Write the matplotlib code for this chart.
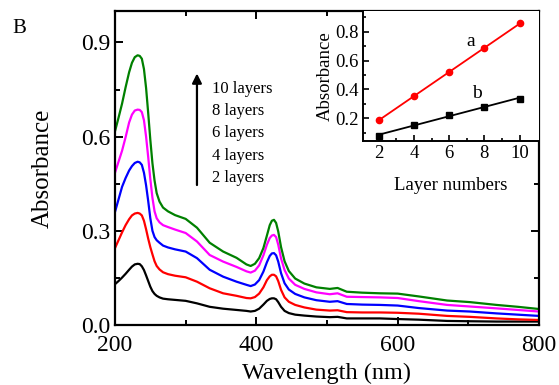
import matplotlib.pyplot as plt
import numpy as np

plt.rcParams['font.family'] = ['Liberation Serif', 'DejaVu Serif']

# UV-vis spectra, sampled at these wavelengths (nm)
wavelength = [200, 205, 210, 215, 220, 224, 228, 232, 235, 238, 241, 244, 247, 250, 253,
              256, 259, 263, 268, 275, 285, 300, 316, 334, 353, 372, 386, 392, 398, 404,
              410, 415, 419, 422, 425, 428, 431, 435, 440, 446, 455, 468, 485, 504, 515,
              528, 550, 575, 600, 630, 670, 702, 740, 770, 800]

abs_2 = [0.130, 0.140, 0.151, 0.163, 0.176, 0.186, 0.193, 0.195, 0.194, 0.187, 0.175, 0.158,
         0.140, 0.122, 0.108, 0.099, 0.093, 0.088, 0.084, 0.082, 0.080, 0.077, 0.069, 0.058,
         0.052, 0.048, 0.045, 0.043, 0.045, 0.052, 0.065, 0.077, 0.083, 0.085, 0.085, 0.082,
         0.073, 0.058, 0.045, 0.038, 0.033, 0.030, 0.027, 0.025, 0.026, 0.021, 0.021, 0.021,
         0.019, 0.017, 0.013, 0.012, 0.011, 0.011, 0.011]
abs_4 = [0.245, 0.270, 0.295, 0.318, 0.337, 0.349, 0.355, 0.357, 0.355, 0.349, 0.332, 0.305,
         0.275, 0.248, 0.225, 0.203, 0.188, 0.177, 0.168, 0.162, 0.157, 0.152, 0.138, 0.117,
         0.101, 0.093, 0.086, 0.085, 0.089, 0.100, 0.120, 0.143, 0.155, 0.160, 0.160, 0.155,
         0.140, 0.112, 0.088, 0.074, 0.064, 0.056, 0.049, 0.046, 0.047, 0.041, 0.040, 0.040,
         0.039, 0.036, 0.029, 0.026, 0.021, 0.018, 0.016]
abs_6 = [0.360, 0.400, 0.440, 0.468, 0.492, 0.506, 0.516, 0.520, 0.518, 0.510, 0.485, 0.445,
         0.395, 0.340, 0.300, 0.280, 0.270, 0.262, 0.253, 0.247, 0.241, 0.234, 0.213, 0.176,
         0.154, 0.138, 0.128, 0.124, 0.129, 0.143, 0.170, 0.200, 0.220, 0.228, 0.229, 0.222,
         0.202, 0.165, 0.133, 0.113, 0.099, 0.088, 0.079, 0.074, 0.076, 0.067, 0.065, 0.064,
         0.062, 0.054, 0.046, 0.043, 0.037, 0.033, 0.029]
abs_8 = [0.485, 0.520, 0.555, 0.598, 0.645, 0.670, 0.683, 0.686, 0.685, 0.678, 0.652, 0.600,
         0.535, 0.465, 0.405, 0.362, 0.340, 0.327, 0.318, 0.312, 0.304, 0.293, 0.266, 0.223,
         0.202, 0.185, 0.171, 0.167, 0.173, 0.190, 0.222, 0.256, 0.277, 0.285, 0.287, 0.280,
         0.256, 0.212, 0.175, 0.148, 0.128, 0.115, 0.104, 0.098, 0.101, 0.090, 0.089, 0.088,
         0.086, 0.076, 0.064, 0.059, 0.053, 0.048, 0.043]
abs_10 = [0.617, 0.660, 0.705, 0.757, 0.805, 0.835, 0.853, 0.859, 0.857, 0.848, 0.815, 0.755,
          0.675, 0.590, 0.515, 0.460, 0.420, 0.393, 0.374, 0.362, 0.350, 0.338, 0.310, 0.262,
          0.234, 0.214, 0.193, 0.188, 0.195, 0.213, 0.245, 0.285, 0.318, 0.332, 0.335, 0.325,
          0.298, 0.248, 0.203, 0.172, 0.148, 0.132, 0.120, 0.115, 0.118, 0.106, 0.103, 0.101,
          0.100, 0.091, 0.078, 0.073, 0.064, 0.058, 0.051]

spectra = [abs_2, abs_4, abs_6, abs_8, abs_10]
colors = ["black", "red", "blue", "magenta", "green"]
layer_labels = ["10 layers", "8 layers", "6 layers", "4 layers", "2 layers"]

# inset: absorbance vs layer number
layers = [2, 4, 6, 8, 10]
abs_a = [0.188, 0.353, 0.520, 0.686, 0.859]
abs_b = [0.078, 0.153, 0.223, 0.281, 0.335]

fig = plt.figure(figsize=(5.59, 3.85), dpi=100)
ax = fig.add_axes([0.2057, 0.1558, 0.7585, 0.8156])

for y, c in zip(spectra, colors):
    ax.plot(wavelength, y, color=c, lw=1.6, solid_joinstyle="round")

ax.set_xlim(200, 800)
ax.set_ylim(0, 1.0)
ax.set_xticks([200, 400, 600, 800])
ax.set_xticks([300, 500, 700], minor=True)
ax.set_yticks([0.0, 0.3, 0.6, 0.9])
ax.set_yticks([0.15, 0.45, 0.75], minor=True)
ax.set_yticklabels(["0.0", "0.3", "0.6", "0.9"])
ax.tick_params(which="both", direction="in", top=True, right=True, width=1.4,
               labelsize=17, pad=3)
ax.tick_params(axis="x", which="both", pad=7)
ax.tick_params(which="major", length=6)
ax.tick_params(which="minor", length=3.5)
for s in ax.spines.values():
    s.set_linewidth(1.6)
ax.set_xlabel("Wavelength (nm)", fontsize=17.5, labelpad=5)
ax.set_ylabel("Absorbance", fontsize=18, labelpad=20)

# arrow and layer labels
ax.annotate("", xy=(316, 0.81), xytext=(316, 0.437),
            arrowprops=dict(arrowstyle="-|>", color="black", lw=1.6,
                            mutation_scale=14))
for i, lab in enumerate(layer_labels):
    ax.text(337, 0.753 - i * 0.0715, lab, fontsize=12, va="center", ha="left")

fig.text(0.022, 0.925, "B", fontsize=15, va="center", ha="left")

# inset
ins = fig.add_axes([0.6494, 0.6338, 0.3148, 0.3376])
ins.set_facecolor("white")
xfit = np.array([2, 10])
pa = np.polyfit(layers, abs_a, 1)
pb = np.polyfit(layers, abs_b, 1)
ins.plot(xfit, np.polyval(pa, xfit), color="red", lw=1.3)
ins.plot(xfit, np.polyval(pb, xfit), color="black", lw=1.3)
ins.plot(layers, abs_a, "o", color="red", ms=4.5)
ins.plot(layers, abs_b, "s", color="black", ms=4)
ins.set_xlim(1.1, 11.1)
ins.set_ylim(0.042, 0.944)
ins.set_xticks([2, 4, 6, 8, 10])
ins.set_xticks([3, 5, 7, 9], minor=True)
ins.set_yticks([0.2, 0.4, 0.6, 0.8])
ins.set_yticks([0.1, 0.3, 0.5, 0.7, 0.9], minor=True)
ins.tick_params(which="both", direction="in", width=1.2, labelsize=13.5, pad=3)
ins.tick_params(which="major", length=4)
ins.tick_params(which="minor", length=2)
ins.spines["top"].set_visible(False)
ins.spines["right"].set_visible(False)
for s in ["left", "bottom"]:
    ins.spines[s].set_linewidth(1.4)
ins.set_xlabel("Layer numbers", fontsize=13.5, labelpad=11)
ins.set_ylabel("Absorbance", fontsize=13.5, labelpad=1)
ins.text(7.2, 0.73, "a", fontsize=14, ha="center", va="center")
ins.text(7.55, 0.37, "b", fontsize=14, ha="center", va="center")

fig.savefig("out.png", dpi=100)
